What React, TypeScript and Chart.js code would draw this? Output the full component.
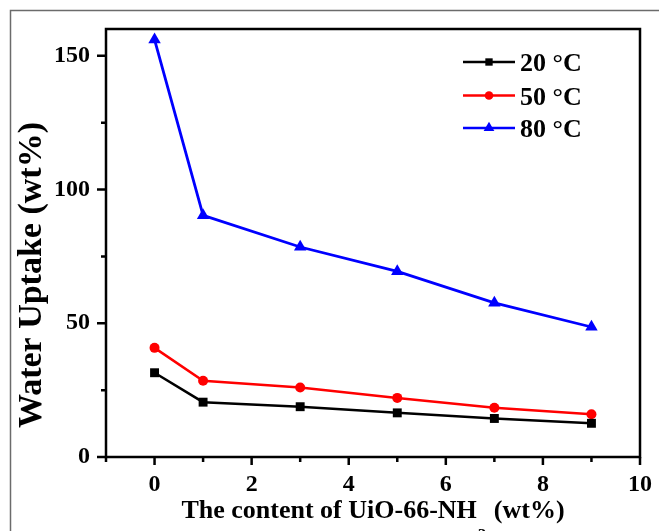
import React, { useEffect, useRef } from 'react';
import { Chart, registerables } from 'chart.js';

Chart.register(...registerables);

// ---- data ----
const contents = [0, 1, 3, 5, 7, 9];
const uptake20 = [31.5, 20.5, 18.8, 16.5, 14.4, 12.6];
const uptake50 = [40.8, 28.5, 26.0, 22.1, 18.4, 16.0];
const uptake80 = [156, 90.3, 78.5, 69.4, 57.6, 48.6];
const seriesLabels = ['20 °C', '50 °C', '80 °C'];
const seriesColors = ['#000000', '#ff0000', '#0000ff'];
const seriesStyles = ['rect', 'circle', 'triangle'];
const xMajorTicks = [0, 2, 4, 6, 8, 10];
const xMinorTicks = [-1, 1, 3, 5, 7, 9];
const yMajorTicks = [0, 50, 100, 150];
const yMinorTicks = [25, 75, 125];
const xTitleMain = 'The content of UiO-66-NH';
const xTitleSub = '2';
const xTitleEnd = ' (wt%)';
const yTitle = 'Water Uptake (wt%)';

const SERIF = '"Liberation Serif", "Times New Roman", serif';

function drawMarker(ctx: CanvasRenderingContext2D, style: string, x: number, y: number, r: number, color: string) {
  ctx.save();
  ctx.fillStyle = color;
  ctx.beginPath();
  if (style === 'rect') {
    const s = r * Math.SQRT1_2;
    ctx.rect(x - s, y - s, 2 * s, 2 * s);
  } else if (style === 'circle') {
    ctx.arc(x, y, r, 0, Math.PI * 2);
  } else {
    ctx.moveTo(x, y - r);
    ctx.lineTo(x + r * Math.sin(Math.PI / 3), y + r * 0.5);
    ctx.lineTo(x - r * Math.sin(Math.PI / 3), y + r * 0.5);
    ctx.closePath();
  }
  ctx.fill();
  ctx.restore();
}

const decorPlugin = {
  id: 'decor',
  beforeDraw(chart: any) {
    const { ctx, width, height } = chart;
    ctx.save();
    ctx.fillStyle = '#ffffff';
    ctx.fillRect(0, 0, width, height);
    ctx.strokeStyle = '#6b6b6b';
    ctx.lineWidth = 1.5;
    ctx.beginPath();
    ctx.moveTo(10.5, height);
    ctx.lineTo(10.5, 10.5);
    ctx.lineTo(width, 10.5);
    ctx.stroke();
    ctx.restore();
  },
  beforeDatasetsDraw(chart: any) {
    const { ctx, chartArea, scales } = chart;
    const { left, right, top, bottom } = chartArea;
    const xs = scales.x;
    const ys = scales.y;
    ctx.save();
    ctx.strokeStyle = '#000';
    ctx.lineWidth = 2.5;
    ctx.strokeRect(left, top, right - left, bottom - top);
    ctx.beginPath();
    for (const v of xMajorTicks) {
      const px = xs.getPixelForValue(v);
      ctx.moveTo(px, bottom);
      ctx.lineTo(px, bottom + 8);
    }
    for (const v of xMinorTicks) {
      const px = xs.getPixelForValue(v);
      ctx.moveTo(px, bottom);
      ctx.lineTo(px, bottom + 5);
    }
    for (const v of yMajorTicks) {
      const py = ys.getPixelForValue(v);
      ctx.moveTo(left, py);
      ctx.lineTo(left - 9, py);
    }
    for (const v of yMinorTicks) {
      const py = ys.getPixelForValue(v);
      ctx.moveTo(left, py);
      ctx.lineTo(left - 5, py);
    }
    ctx.stroke();
    ctx.restore();
  },
  afterDraw(chart: any) {
    const { ctx } = chart;
    ctx.save();
    ctx.fillStyle = '#000';
    // x title
    const mainFont = `bold 26px ${SERIF}`;
    const subFont = `bold 17px ${SERIF}`;
    ctx.font = mainFont;
    const wMain = ctx.measureText(xTitleMain).width;
    const wEnd = ctx.measureText(xTitleEnd).width;
    ctx.font = subFont;
    const wSub = ctx.measureText(xTitleSub).width;
    const total = wMain + wSub + 2 + wEnd;
    const x0 = 373 - total / 2;
    ctx.textBaseline = 'alphabetic';
    ctx.textAlign = 'left';
    ctx.font = mainFont;
    ctx.fillText(xTitleMain, x0, 518);
    ctx.font = subFont;
    ctx.fillText(xTitleSub, x0 + wMain + 1, 540);
    ctx.font = mainFont;
    ctx.fillText(xTitleEnd, x0 + wMain + wSub + 2, 518);
    // y title
    ctx.save();
    ctx.translate(32, 275);
    ctx.rotate(-Math.PI / 2);
    ctx.font = `bold 34px ${SERIF}`;
    ctx.textAlign = 'center';
    ctx.textBaseline = 'middle';
    ctx.fillText(yTitle, 0, 0);
    ctx.restore();
    // legend
    const rowY = [62, 95.5, 128];
    const markerR = [5.2, 4.3, 6.2];
    chart.data.datasets.forEach((ds: any, i: number) => {
      const y = rowY[i];
      ctx.strokeStyle = seriesColors[i];
      ctx.lineWidth = 2.5;
      ctx.beginPath();
      ctx.moveTo(463, y);
      ctx.lineTo(515, y);
      ctx.stroke();
      drawMarker(ctx, seriesStyles[i], 489, y, markerR[i], seriesColors[i]);
      ctx.fillStyle = '#000';
      ctx.font = `bold 26px ${SERIF}`;
      ctx.textAlign = 'left';
      ctx.textBaseline = 'alphabetic';
      ctx.fillText(ds.label, 520, y + 9);
    });
    ctx.restore();
  },
};

export default function App() {
  const ref = useRef<HTMLCanvasElement | null>(null);
  useEffect(() => {
    document.body.style.margin = '0';
    const canvas = ref.current;
    if (!canvas) return;
    const series = [uptake20, uptake50, uptake80];
    const radii = [6.3, 5, 7.2];
    const chart = new Chart(canvas, {
      type: 'line',
      data: {
        datasets: series.map((vals, i) => ({
          label: seriesLabels[i],
          data: contents.map((c, j) => ({ x: c, y: vals[j] })),
          borderColor: seriesColors[i],
          backgroundColor: seriesColors[i],
          borderWidth: i === 2 ? 2.8 : 2.5,
          pointStyle: seriesStyles[i] as any,
          pointRadius: radii[i],
          pointBorderWidth: 0,
          pointBackgroundColor: seriesColors[i],
          tension: 0,
          fill: false,
          clip: false as any,
        })),
      },
      options: {
        responsive: false,
        animation: false,
        layout: { padding: { left: 0, right: 19, top: 29, bottom: 0 } },
        plugins: { legend: { display: false }, tooltip: { enabled: false } },
        scales: {
          x: {
            type: 'linear',
            min: -1,
            max: 10,
            afterBuildTicks: (s: any) => {
              s.ticks = xMajorTicks.map((v) => ({ value: v }));
            },
            afterFit: (s: any) => {
              s.height = 74;
              s.paddingLeft = 0;
              s.paddingRight = 0;
            },
            grid: { display: false, drawTicks: false },
            border: { display: false },
            ticks: {
              color: '#000',
              font: { family: SERIF, size: 24, weight: 'bold' },
              padding: 13,
              maxRotation: 0,
              autoSkip: false,
            },
          },
          y: {
            type: 'linear',
            min: 0,
            max: 160,
            afterBuildTicks: (s: any) => {
              s.ticks = yMajorTicks.map((v) => ({ value: v }));
            },
            afterFit: (s: any) => {
              s.width = 106;
              s.paddingTop = 0;
              s.paddingBottom = 0;
            },
            grid: { display: false, drawTicks: false },
            border: { display: false },
            ticks: {
              color: '#000',
              font: { family: SERIF, size: 24, weight: 'bold' },
              padding: 16,
              autoSkip: false,
            },
          },
        },
      },
      plugins: [decorPlugin],
    });
    return () => chart.destroy();
  }, []);
  return <canvas ref={ref} width={659} height={531} style={{ display: 'block' }} />;
}
